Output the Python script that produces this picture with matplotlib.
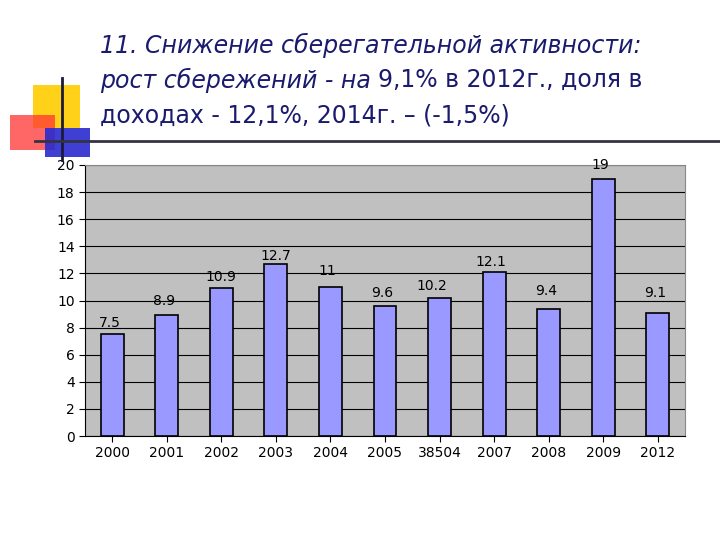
import matplotlib
matplotlib.use("Agg")
import matplotlib.pyplot as plt
from matplotlib.patches import Rectangle
from matplotlib.lines import Line2D
from matplotlib.transforms import offset_copy

categories = ["2000", "2001", "2002", "2003", "2004", "2005", "38504", "2007", "2008", "2009", "2012"]
values = [7.5, 8.9, 10.9, 12.7, 11, 9.6, 10.2, 12.1, 9.4, 19, 9.1]
labels = ["7.5", "8.9", "10.9", "12.7", "11", "9.6", "10.2", "12.1", "9.4", "19", "9.1"]
label_heights = [7.6, 9.2, 11.0, 12.5, 11.4, 9.8, 10.3, 12.1, 9.9, 19.2, 9.8]
label_dx = [0, 0, 0.05, 0.05, 0.0, 0.0, -0.1, 0.0, 0.0, 0.0, 0.0]

W, H = 720, 540
fig = plt.figure(figsize=(7.2, 5.4), dpi=100)
fig.patch.set_facecolor("white")

def fx(x): return x / W
def fy(y): return 1 - y / H

for (x0, y0, x1, y1, c, a) in [(33, 85, 80, 128, "#ffcc00", 0.9), (10, 115, 55, 150, "#ff3333", 0.75),
                               (45, 128, 90, 157, "#2a2ad0", 0.9)]:
    fig.patches.append(Rectangle((fx(x0), fy(y1)), fx(x1 - x0), (y1 - y0) / H, transform=fig.transFigure,
                                 facecolor=c, alpha=a, edgecolor="none"))
fig.lines.append(Line2D([fx(62), fx(62)], [fy(78), fy(160)], transform=fig.transFigure, color="#1a1a3a", lw=2))
fig.lines.append(Line2D([fx(35), fx(720)], [fy(141), fy(141)], transform=fig.transFigure, color="#333344", lw=2))

tc = "#1a1a6e"
fig.text(fx(100), fy(45), "11. Снижение сберегательной активности:", fontsize=17, style="italic", color=tc, va="center")
t1 = fig.text(fx(100), fy(80), "рост сбережений - на ", fontsize=17, style="italic", color=tc, va="center")
fig.canvas.draw()
bb = t1.get_window_extent(renderer=fig.canvas.get_renderer())
fig.text(bb.x1 / W, fy(80), "9,1% в 2012г., доля в", fontsize=17, color=tc, va="center")
fig.text(fx(100), fy(115), "доходах - 12,1%, 2014г. – (-1,5%)", fontsize=17, color=tc, va="center")

ax = fig.add_axes([fx(85), fy(436), fx(685 - 85), (436 - 165) / H])
ax.set_facecolor("#c0c0c0")
x = list(range(len(categories)))
ax.bar(x, values, width=0.42, color="#9999ff", edgecolor="black", linewidth=1.2, zorder=3)
for i in x:
    ax.text(i + label_dx[i] - 0.05, label_heights[i] + 0.25, labels[i], ha="center", va="bottom", fontsize=10, zorder=4)
ax.set_ylim(0, 20)
ax.set_xlim(-0.5, len(categories) - 0.5)
ax.set_yticks(range(0, 21, 2))
ax.set_xticks(x)
ax.set_xticklabels(categories)
ax.tick_params(axis="both", labelsize=10, length=4)
ax.grid(axis="y", color="black", lw=0.8, zorder=1)
for s in ax.spines.values():
    s.set_color("black")
ax.spines["right"].set_color("#888888")
ax.spines["top"].set_color("#888888")

fig.savefig("out.png", dpi=100)
